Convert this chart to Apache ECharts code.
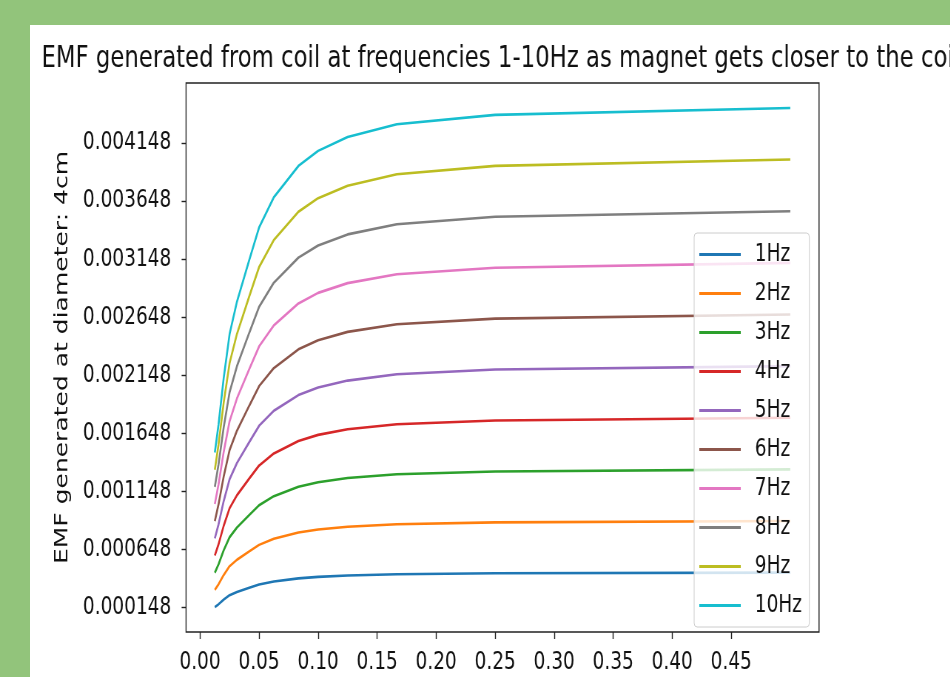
<!DOCTYPE html>
<html>
<head>
<meta charset="utf-8">
<script src="https://cdn.jsdelivr.net/npm/echarts@6/dist/echarts.min.js"></script>
<style>
  html, body { margin: 0; padding: 0; width: 950px; height: 677px; overflow: hidden; background: #92c47b; }
  #panel { position: absolute; left: 30px; top: 25px; right: 0; bottom: 0; background: #fff; }
  /* the source figure is squeezed horizontally, so draw wide and scale x down */
  #chart { position: absolute; left: 0; top: 0; width: 1284px; height: 677px; transform: scaleX(0.74); transform-origin: 0 0; }
</style>
</head>
<body>
<div id="panel"></div>
<div id="chart"></div>
<script>
// distance values (x)
const xValues = [0.0125, 0.015625, 0.02, 0.025, 0.03125, 0.041667, 0.05, 0.0625, 0.083333, 0.1, 0.125, 0.166667, 0.25, 0.5];

const freqLabels = ['1Hz', '2Hz', '3Hz', '4Hz', '5Hz', '6Hz', '7Hz', '8Hz', '9Hz', '10Hz'];

// EMF
const emf1Hz  = [0.000148, 0.000172, 0.000212, 0.000250, 0.000278, 0.000314, 0.000342, 0.000368, 0.000395, 0.000408, 0.000420, 0.000431, 0.000439, 0.000445];
const emf2Hz  = [0.000296, 0.000344, 0.000424, 0.000500, 0.000556, 0.000628, 0.000684, 0.000736, 0.000790, 0.000816, 0.000840, 0.000862, 0.000878, 0.000890];
const emf3Hz  = [0.000444, 0.000516, 0.000636, 0.000750, 0.000834, 0.000942, 0.001026, 0.001104, 0.001185, 0.001224, 0.001260, 0.001293, 0.001317, 0.001335];
const emf4Hz  = [0.000592, 0.000688, 0.000848, 0.001000, 0.001112, 0.001256, 0.001368, 0.001472, 0.001580, 0.001632, 0.001680, 0.001724, 0.001756, 0.001780];
const emf5Hz  = [0.000740, 0.000860, 0.001060, 0.001250, 0.001390, 0.001570, 0.001710, 0.001840, 0.001975, 0.002040, 0.002100, 0.002155, 0.002195, 0.002225];
const emf6Hz  = [0.000888, 0.001032, 0.001272, 0.001500, 0.001668, 0.001884, 0.002052, 0.002208, 0.002370, 0.002448, 0.002520, 0.002586, 0.002634, 0.002670];
const emf7Hz  = [0.001036, 0.001204, 0.001484, 0.001750, 0.001946, 0.002198, 0.002394, 0.002576, 0.002765, 0.002856, 0.002940, 0.003017, 0.003073, 0.003115];
const emf8Hz  = [0.001184, 0.001376, 0.001696, 0.002000, 0.002224, 0.002512, 0.002736, 0.002944, 0.003160, 0.003264, 0.003360, 0.003448, 0.003512, 0.003560];
const emf9Hz  = [0.001332, 0.001548, 0.001908, 0.002250, 0.002502, 0.002826, 0.003078, 0.003312, 0.003555, 0.003672, 0.003780, 0.003879, 0.003951, 0.004005];
const emf10Hz = [0.001480, 0.001720, 0.002120, 0.002500, 0.002780, 0.003140, 0.003420, 0.003680, 0.003950, 0.004080, 0.004200, 0.004310, 0.004390, 0.004450];

const xTicks = [0.00, 0.05, 0.10, 0.15, 0.20, 0.25, 0.30, 0.35, 0.40, 0.45];
const yTicks = [0.000148, 0.000648, 0.001148, 0.001648, 0.002148, 0.002648, 0.003148, 0.003648, 0.004148];

const allSeries = [emf1Hz, emf2Hz, emf3Hz, emf4Hz, emf5Hz, emf6Hz, emf7Hz, emf8Hz, emf9Hz, emf10Hz];
const colors = ['#1f77b4', '#ff7f0e', '#2ca02c', '#d62728', '#9467bd', '#8c564b', '#e377c2', '#7f7f7f', '#bcbd22', '#17becf'];

const font = 'DejaVu Sans';

const chart = echarts.init(document.getElementById('chart'));
chart.setOption({
  animation: false,
  color: colors,
  textStyle: { fontFamily: font },
  title: {
    text: 'EMF generated from coil at frequencies 1-10Hz as magnet gets closer to the coil',
    left: 51,
    top: 38,
    textStyle: { fontFamily: font, fontSize: 30.8, fontWeight: 'normal', color: '#111' }
  },
  grid: {
    left: 251.4, right: 177.2, top: 83, bottom: 45,
    show: true, borderColor: '#222', borderWidth: 1.4, backgroundColor: 'transparent'
  },
  legend: {
    orient: 'vertical',
    left: 938, top: 233,
    data: freqLabels,
    icon: 'path://M0 0H56V3H0Z',
    itemWidth: 56, itemHeight: 3, itemGap: 14,
    padding: [9, 10, 9, 7],
    backgroundColor: 'rgba(255,255,255,0.8)',
    borderColor: '#cccccc', borderWidth: 1, borderRadius: 4,
    textStyle: { fontFamily: font, fontSize: 25, lineHeight: 24, color: '#111', padding: [0, 0, 0, 14] }
  },
  xAxis: {
    type: 'value',
    min: -0.011875, max: 0.524375,
    axisLine: { show: false, onZero: false },
    splitLine: { show: false },
    axisTick: { show: true, length: 7, customValues: xTicks, lineStyle: { color: '#222', width: 1.4 } },
    axisLabel: {
      customValues: xTicks, margin: 18, fontSize: 25, color: '#111', fontFamily: font,
      formatter: v => v.toFixed(2)
    }
  },
  yAxis: {
    type: 'value',
    min: -0.000067, max: 0.004665,
    name: 'EMF generated at diameter: 4cm',
    nameLocation: 'middle',
    nameGap: 154,
    nameTextStyle: { fontFamily: font, fontSize: 25, color: '#111' },
    axisLine: { show: false, onZero: false },
    splitLine: { show: false },
    axisTick: { show: true, length: 6, customValues: yTicks, lineStyle: { color: '#222', width: 1.4 } },
    axisLabel: {
      customValues: yTicks, margin: 20, fontSize: 25, color: '#111', fontFamily: font,
      formatter: v => v.toFixed(6)
    }
  },
  series: allSeries.map((vals, i) => ({
    name: freqLabels[i],
    type: 'line',
    symbol: 'none',
    lineStyle: { width: 2.6 },
    data: vals.map((v, j) => [xValues[j], v])
  }))
});
</script>
</body>
</html>
